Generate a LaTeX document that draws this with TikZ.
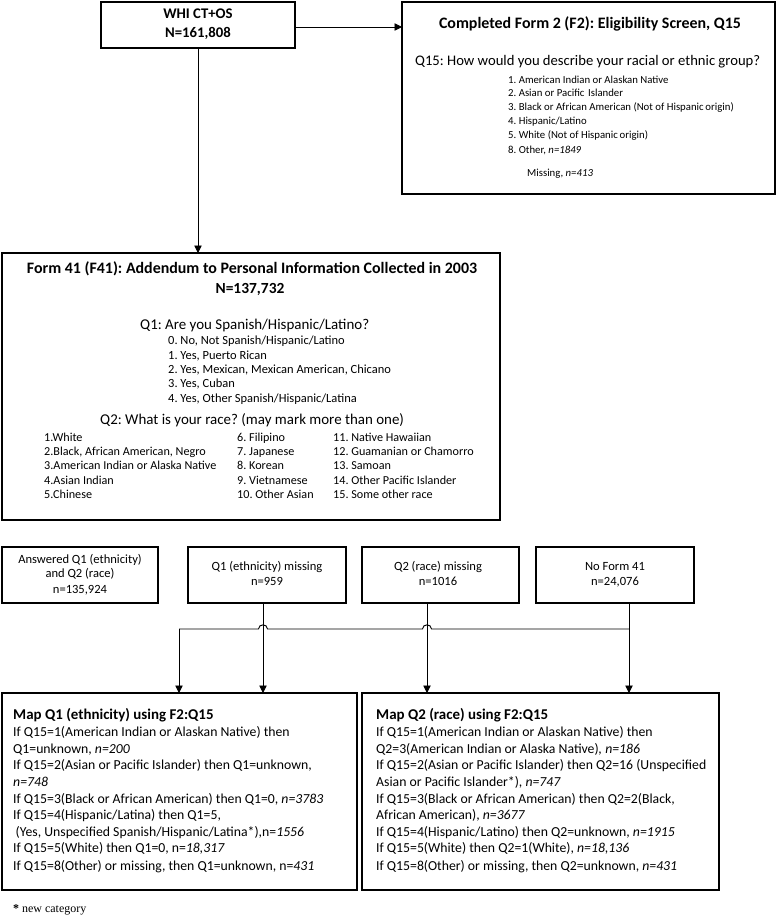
\documentclass[tikz,border=0pt]{standalone}
\usepackage{fontspec}
\setmainfont{Carlito}
\newfontfamily\serifft{Liberation Serif}
\usetikzlibrary{arrows.meta}
\frenchspacing
\newcommand\fsWhi{\fontsize{14.8}{16}\bfseries\selectfont}
\newcommand\fsTitle{\fontsize{16}{18}\bfseries\selectfont}
\newcommand\fsN{\fontsize{15.5}{18}\bfseries\selectfont}
\newcommand\fsQ{\fontsize{15}{17}\selectfont}
\newcommand\fsQa{\fontsize{14.7}{17}\selectfont}
\newcommand\fsItemA{\fontsize{10.8}{12}\selectfont}
\newcommand\fsItemB{\fontsize{12.5}{15}\selectfont}
\newcommand\fsItemC{\fontsize{12.2}{14}\selectfont}
\newcommand\fsRow{\fontsize{12.6}{14}\selectfont}
\newcommand\fsMapT{\fontsize{15}{17}\bfseries\selectfont}
\newcommand\fsMap{\fontsize{13.8}{16}\selectfont}
\begin{document}
\begin{tikzpicture}[x=1bp,y=-1bp,
 box/.style={draw,line width=1.5bp,inner sep=0,outer sep=0},
 tl/.style={inner sep=0,anchor=mid west},
 tc/.style={inner sep=0,anchor=mid},
 con/.style={line width=0.9bp},
 arr/.style={con,-{Triangle[length=7.5bp,width=7.5bp]}}]
\fill[white] (0,0) rectangle (780,916);
\useasboundingbox (0,0) rectangle (780,916);
% boxes
\node[box,minimum width=194bp,minimum height=46bp] (whi) at (198,25) {};
\node[box,minimum width=373bp,minimum height=192bp] (f2) at (588.5,98) {};
\node[box,minimum width=498bp,minimum height=267bp] (f41) at (251,386.5) {};
\node[box,minimum width=156bp,minimum height=56bp] (ra) at (80,575) {};
\node[box,minimum width=158bp,minimum height=56bp] (rb) at (267,575) {};
\node[box,minimum width=157bp,minimum height=56bp] (rc) at (440.5,575) {};
\node[box,minimum width=158bp,minimum height=56bp] (rd) at (615,575) {};
\node[box,minimum width=355bp,minimum height=197bp] (mq1) at (179.5,791.5) {};
\node[box,minimum width=357bp,minimum height=197bp] (mq2) at (540.5,791.5) {};
% WHI
\node[tc,font=\fsWhi] (whi1) at (198,16) {WHI CT+OS};
\node[tc,font=\fsWhi] (whi2) at (198,35) {N=161,808};
% F2
\node[tc,font=\fsTitle] (f2t) at (590,26) {Completed Form 2 (F2): Eligibility Screen, Q15};
\node[tl,font=\fsQa] (f2q) at (415,63) {Q15: How would you describe your racial or ethnic group?};
\node[tl,font=\fsItemA] (f2a) at (508,81) {1. American Indian or Alaskan Native};
\node[tl,font=\fsItemA] (f2b) at (508,94) {2. Asian or Pacific\,\,Islander};
\node[tl,font=\fsItemA] (f2c) at (508,108) {3. Black or African American (Not of Hispanic\,origin)};
\node[tl,font=\fsItemA] (f2d) at (508,122) {4. Hispanic/Latino};
\node[tl,font=\fsItemA] (f2e) at (508,136) {5. White (Not of Hispanic\,origin)};
\node[tl,font=\fsItemA] (f2f) at (508,151) {8. Other, \textit{n=1849}};
\node[tl,font=\fsItemA] (f2g) at (527,174) {Missing, \textit{n=413}};
% F41
\node[tc,font=\fsTitle] (f41t) at (252,271) {Form 41 (F41): Addendum to Personal Information Collected in 2003};
\node[tc,font=\fsN] (f41n) at (250,291) {N=137,732};
\node[tl,font=\fsQ] (q1) at (140,327) {Q1: Are you Spanish/Hispanic/Latino?};
\node[tl,font=\fsItemB] (q1a) at (168,342) {0. No, Not Spanish/Hispanic/Latino};
\node[tl,font=\fsItemB] (q1b) at (168,357) {1. Yes, Puerto Rican};
\node[tl,font=\fsItemB] (q1c) at (168,371) {2. Yes, Mexican, Mexican American, Chicano};
\node[tl,font=\fsItemB] (q1d) at (168,385) {3. Yes, Cuban};
\node[tl,font=\fsItemB] (q1e) at (168,400) {4. Yes, Other Spanish/Hispanic/Latina};
\node[tl,font=\fsQ] (q2) at (100,422) {Q2: What is your race? (may mark more than one)};
\node[tl,font=\fsItemC] (r1) at (44,439) {1.White};
\node[tl,font=\fsItemC] (r2) at (44,453) {2.Black, African American, Negro};
\node[tl,font=\fsItemC] (r3) at (44,467) {3.American Indian or Alaska Native};
\node[tl,font=\fsItemC] (r4) at (44,482) {4.Asian Indian};
\node[tl,font=\fsItemC] (r5) at (44,496) {5.Chinese};
\node[tl,font=\fsItemC] (r6) at (237,439) {6. Filipino};
\node[tl,font=\fsItemC] (r7) at (237,453) {7. Japanese};
\node[tl,font=\fsItemC] (r8) at (237,467) {8. Korean};
\node[tl,font=\fsItemC] (r9) at (237,482) {9. Vietnamese};
\node[tl,font=\fsItemC] (r10) at (237,496) {10. Other Asian};
\node[tl,font=\fsItemC] (r11) at (333,439) {11. Native Hawaiian};
\node[tl,font=\fsItemC] (r12) at (333,453) {12. Guamanian or Chamorro};
\node[tl,font=\fsItemC] (r13) at (333,467) {13. Samoan};
\node[tl,font=\fsItemC] (r14) at (333,482) {14. Other Pacific Islander};
\node[tl,font=\fsItemC] (r15) at (333,496) {15. Some other race};
% row boxes text
\node[tc,font=\fsRow] (ra1) at (80,561) {Answered Q1 (ethnicity)};
\node[tc,font=\fsRow] (ra2) at (80,575) {and Q2 (race)};
\node[tc,font=\fsRow] (ra3) at (80,591) {n=135,924};
\node[tc,font=\fsRow] (rb1) at (267,568) {Q1 (ethnicity) missing};
\node[tc,font=\fsRow] (rb2) at (267,583) {n=959};
\node[tc,font=\fsRow] (rc1) at (438,568) {Q2 (race) missing};
\node[tc,font=\fsRow] (rc2) at (438,583) {n=1016};
\node[tc,font=\fsRow] (rd1) at (615,568) {No Form 41};
\node[tc,font=\fsRow] (rd2) at (615,583) {n=24,076};
% Map Q1
\node[tl,font=\fsMapT] (m1t) at (13,717) {Map Q1 (ethnicity) using F2:Q15};
\node[tl,font=\fsMap] (m1a) at (13,734) {If Q15=1(American Indian or Alaskan Native) then};
\node[tl,font=\fsMap] (m1b) at (13,751) {Q1=unknown, \textit{n=200}};
\node[tl,font=\fsMap] (m1c) at (13,767) {If Q15=2(Asian or Pacific Islander) then Q1=unknown,};
\node[tl,font=\fsMap] (m1d) at (13,784) {\textit{n=748}};
\node[tl,font=\fsMap] (m1e) at (13,801) {If Q15=3(Black or African American) then Q1=0, \textit{n=3783}};
\node[tl,font=\fsMap] (m1f) at (13,817) {If Q15=4(Hispanic/Latina) then Q1=5,};
\node[tl,font=\fsMap] (m1g) at (15.5,834) {(Yes, Unspecified Spanish/Hispanic/Latina*),n=\textit{1556}};
\node[tl,font=\fsMap] (m1h) at (13,850) {If Q15=5(White) then Q1=0, n=\textit{18,317}};
\node[tl,font=\fsMap] (m1i) at (13,868) {If Q15=8(Other) or missing, then Q1=unknown, n=\textit{431}};
% Map Q2
\node[tl,font=\fsMapT] (m2t) at (376,717) {Map Q2 (race) using F2:Q15};
\node[tl,font=\fsMap] (m2a) at (376,734) {If Q15=1(American Indian or Alaskan Native) then};
\node[tl,font=\fsMap] (m2b) at (376,751) {Q2=3(American Indian or Alaska Native)\textit{, n=186}};
\node[tl,font=\fsMap] (m2c) at (376,767) {If Q15=2(Asian or Pacific Islander) then Q2=16 (Unspecified};
\node[tl,font=\fsMap] (m2d) at (376,784) {Asian or Pacific Islander*), \textit{n=747}};
\node[tl,font=\fsMap] (m2e) at (376,801) {If Q15=3(Black or African American) then Q2=2(Black,};
\node[tl,font=\fsMap] (m2f) at (376,817) {African American), \textit{n=3677}};
\node[tl,font=\fsMap] (m2g) at (376,834) {If Q15=4(Hispanic/Latino) then Q2=unknown, \textit{n=1915}};
\node[tl,font=\fsMap] (m2h) at (376,850) {If Q15=5(White) then Q2=1(White), \textit{n=18,136}};
\node[tl,font=\fsMap] (m2i) at (376,868) {If Q15=8(Other) or missing, then Q2=unknown, \textit{n=431}};
% footnote
\node[tl,font=\serifft\fontsize{12}{14}\selectfont] (fn) at (13,910) {\textbf{*} new category};
% connectors
\draw[arr] ([yshift=-2bp]whi.east) -- ([yshift=-2bp]f2.west |- whi.east);
\draw[arr] (whi.south) -- (f41.north -| whi.south);
\draw[arr] ([xshift=-4bp]rb.south) -- ([xshift=-4bp]rb.south |- mq1.north);
\draw[arr] ([xshift=-13.5bp]rc.south) -- ([xshift=-13.5bp]rc.south |- mq2.north);
\draw[arr] ([xshift=14bp]rd.south) -- ([xshift=14bp]rd.south |- mq2.north);
\coordinate (j1) at (629,629);
\coordinate (j2) at (179,629);
\draw[con] (j1) -- (431.5,629) .. controls (431.5,623.5) and (422.5,623.5) .. (422.5,629)
  -- (267.5,629) .. controls (267.5,623.5) and (258.5,623.5) .. (258.5,629) -- (j2);
\draw[arr] (j2) -- (j2 |- mq1.north);
\end{tikzpicture}
\end{document}
